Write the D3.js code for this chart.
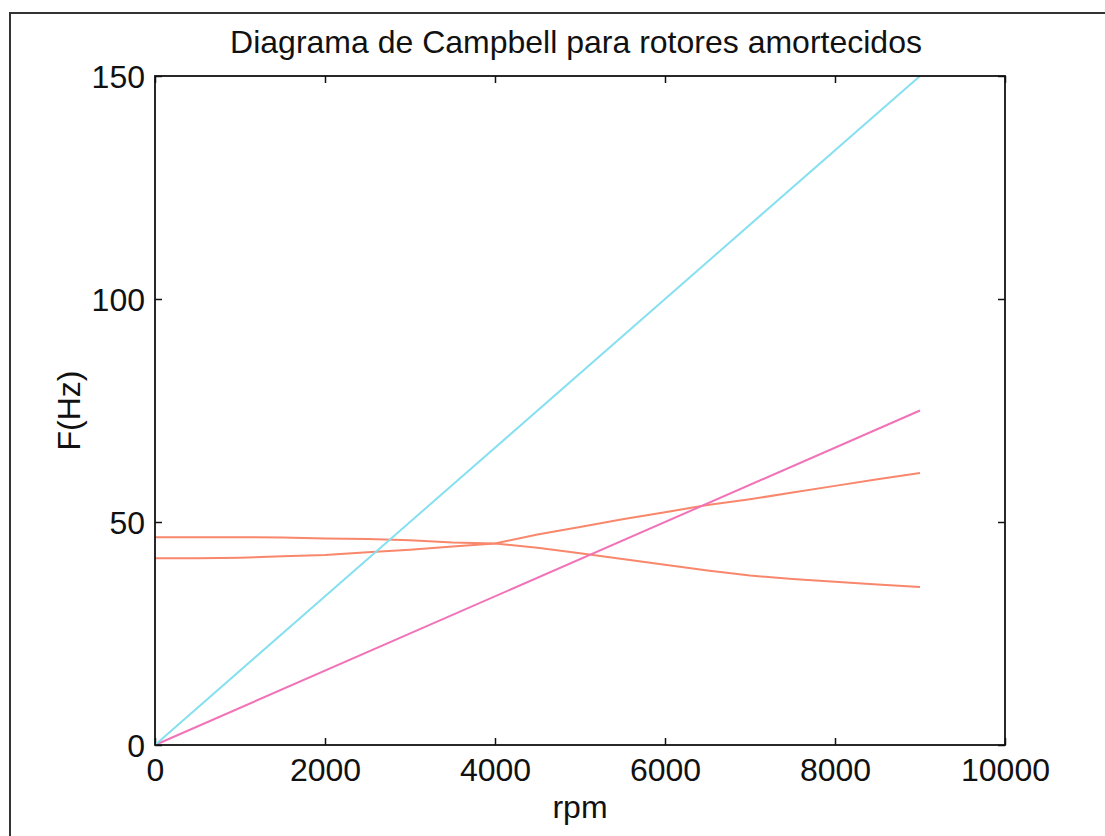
<!DOCTYPE html>
<html>
<head>
<meta charset="utf-8">
<script src="https://cdn.jsdelivr.net/npm/d3@7"></script>
<style>
  html, body { margin: 0; padding: 0; background: #fff; }
  svg { display: block; font-family: "Liberation Sans", Arial, sans-serif; }
</style>
</head>
<body>
<script>
// ********************************** //
// ** Data
// ********************************** //
const rpm = [0, 500, 1000, 1500, 2000, 2500, 3000, 3500, 4000, 4500,
  5000, 5500, 6000, 6500, 7000, 7500, 8000, 8500, 9000];
// mode starting high (backward whirl)
const modeHigh = [46.6, 46.6, 46.6, 46.5, 46.3, 46.2, 45.9, 45.4, 45.2, 44.2,
  43.0, 41.7, 40.4, 39.1, 38.0, 37.2, 36.6, 36.0, 35.4];
// mode starting low (forward whirl)
const modeLow = [41.9, 41.9, 42.0, 42.3, 42.6, 43.2, 43.8, 44.5, 45.2, 47.2,
  48.9, 50.6, 52.2, 53.8, 55.1, 56.6, 58.1, 59.6, 61.0];
// excitation lines 1x and 0.5x
const lineRpm = [0, 9000];
const line1x = [0, 150];
const lineHalf = [0, 75];

const xTicks = [0, 2000, 4000, 6000, 8000, 10000];
const yTicks = [0, 50, 100, 150];

// ********************************** //
// ** Layout
// ********************************** //
const width = 1105;
const height = 836;
const plot = { left: 155, right: 1005, top: 76, bottom: 745 };

const svg = d3.select("body")
  .append("svg")
  .attr("width", width)
  .attr("height", height);

// scanned figure frame (cut off at right and bottom)
svg.append("rect")
  .attr("x", 10)
  .attr("y", 13)
  .attr("width", width + 20)
  .attr("height", height + 20)
  .attr("fill", "#fff")
  .attr("stroke", "#333")
  .attr("stroke-width", 2);

const x = d3.scaleLinear().domain([0, 10000]).range([plot.left, plot.right]);
const y = d3.scaleLinear().domain([0, 150]).range([plot.bottom, plot.top]);

// ********************************** //
// ** Axes (ticks inward on all sides)
// ********************************** //
const tickLen = 7;
const fontSize = 32;
const fmt = d3.format("d");

const xBottom = svg.append("g")
  .attr("transform", `translate(0,${plot.bottom})`)
  .call(d3.axisBottom(x).tickValues(xTicks).tickFormat(fmt).tickSizeInner(-tickLen).tickSizeOuter(0).tickPadding(13));
const xTop = svg.append("g")
  .attr("transform", `translate(0,${plot.top})`)
  .call(d3.axisTop(x).tickValues(xTicks).tickSizeInner(-tickLen).tickSizeOuter(0).tickFormat(""));
const yLeft = svg.append("g")
  .attr("transform", `translate(${plot.left},0)`)
  .call(d3.axisLeft(y).tickValues(yTicks).tickFormat(fmt).tickSizeInner(-tickLen).tickSizeOuter(0).tickPadding(10));
const yRight = svg.append("g")
  .attr("transform", `translate(${plot.right},0)`)
  .call(d3.axisRight(y).tickValues(yTicks).tickSizeInner(-tickLen).tickSizeOuter(0).tickFormat(""));

[xBottom, xTop, yLeft, yRight].forEach(g => {
  g.select(".domain").remove();
  g.selectAll(".tick line").attr("stroke", "#111").attr("stroke-width", 1.5);
  g.selectAll(".tick text")
    .attr("fill", "#111")
    .style("font-size", fontSize + "px")
    .style("font-family", "'Liberation Sans', Arial, sans-serif");
});
yLeft.selectAll(".tick text").attr("dy", "0.35em");

// ********************************** //
// ** Lines
// ********************************** //
const lines = svg.append("g").attr("class", "lines");
const lineGen = d3.line().x(d => x(d[0])).y(d => y(d[1]));

const series = [
  { xs: rpm, ys: modeHigh, color: "#f8876c" },
  { xs: rpm, ys: modeLow, color: "#f8876c" },
  { xs: lineRpm, ys: lineHalf, color: "#f272b8" },
  { xs: lineRpm, ys: line1x, color: "#86e0f0" }
];

lines.selectAll("path")
  .data(series)
  .join("path")
  .attr("fill", "none")
  .attr("stroke", d => d.color)
  .attr("stroke-width", 2)
  .attr("d", d => lineGen(d.xs.map((v, i) => [v, d.ys[i]])));

// axes box
svg.append("rect")
  .attr("x", plot.left)
  .attr("y", plot.top)
  .attr("width", plot.right - plot.left)
  .attr("height", plot.bottom - plot.top)
  .attr("fill", "none")
  .attr("stroke", "#111")
  .attr("stroke-width", 1.8);

// ********************************** //
// ** Labels
// ********************************** //
svg.append("text")
  .attr("x", 576)
  .attr("y", 53)
  .attr("text-anchor", "middle")
  .attr("fill", "#111")
  .style("font-size", fontSize + "px")
  .text("Diagrama de Campbell para rotores amortecidos");

svg.append("text")
  .attr("x", (plot.left + plot.right) / 2)
  .attr("y", 818)
  .attr("text-anchor", "middle")
  .attr("fill", "#111")
  .style("font-size", fontSize + "px")
  .text("rpm");

svg.append("text")
  .attr("transform", `translate(80,${(plot.top + plot.bottom) / 2}) rotate(-90)`)
  .attr("text-anchor", "middle")
  .attr("fill", "#111")
  .style("font-size", fontSize + "px")
  .text("F(Hz)");
</script>
</body>
</html>
